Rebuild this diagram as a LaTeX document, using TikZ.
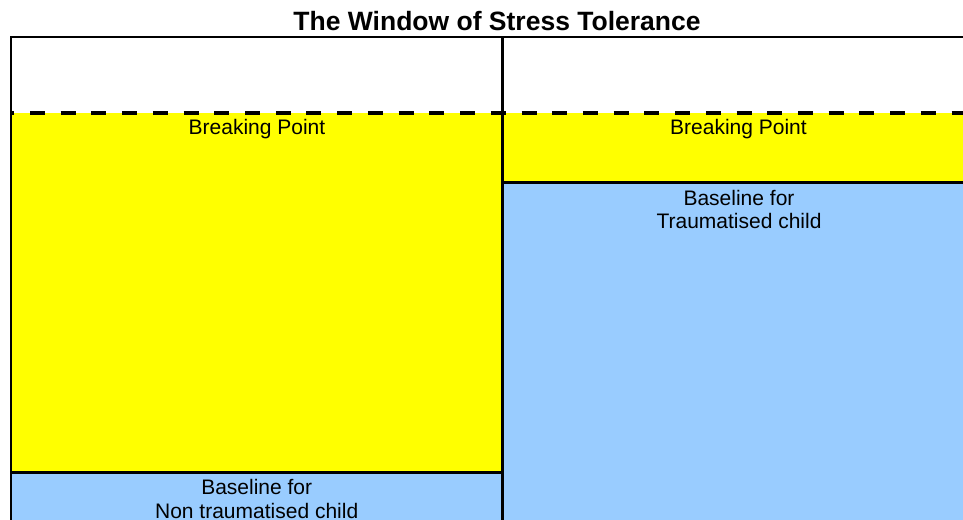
\documentclass[tikz,border=0pt]{standalone}
\usepackage{fontspec}
\setmainfont{Liberation Sans}
\definecolor{zoneyellow}{RGB}{255,255,0}
\definecolor{zoneblue}{RGB}{153,204,255}
\tikzset{
  label text/.style={font=\fontsize{21}{23.5}\selectfont, align=center, inner sep=0pt, anchor=base},
  title text/.style={font=\fontsize{26.5}{30}\selectfont\bfseries, inner sep=0pt, anchor=base},
  edge line/.style={line width=3.5pt},
  frame line/.style={line width=2pt},
  limit line/.style={line width=4pt, dash pattern=on 15pt off 15.72pt, dash phase=11.72pt}
}
\begin{document}
\begin{tikzpicture}[x=1pt, y=-1pt]
  \useasboundingbox (0,0) rectangle (963,519);
  % coloured zones
  \fill[zoneyellow] (11,113) rectangle (502.5,472.5);
  \fill[zoneblue]   (11,472.5) rectangle (502.5,530);
  \fill[zoneyellow] (502.5,113) rectangle (975,182.5);
  \fill[zoneblue]   (502.5,182.5) rectangle (975,530);
  % zone boundaries
  \coordinate (lb1) at (11,472.7);
  \coordinate (lb2) at (502,472.7);
  \coordinate (rb1) at (504,182.6);
  \coordinate (rb2) at (975,182.6);
  \draw[edge line] (lb1) -- (lb2);
  \draw[edge line] (rb1) -- (rb2);
  % outer frame and divider
  \coordinate (fbl) at (11,530);
  \coordinate (ftl) at (11,37);
  \coordinate (ftr) at (975,37);
  \coordinate (dtop) at (502.5,37);
  \coordinate (dbot) at (502.5,530);
  \draw[frame line] (fbl) -- (ftl) -- (ftr);
  \draw[line width=3pt] (dtop) -- (dbot);
  % breaking-point limit
  \coordinate (ll) at (11,113);
  \coordinate (lr) at (975,113);
  \draw[limit line] (ll) -- (lr);
  % texts (multi-line labels are placed by the baseline of their last line)
  \node[title text] (title) at (497,30.5) {The Window of Stress Tolerance};
  \node[label text] (bpl) at (257,134) {Breaking Point};
  \node[label text] (bpr) at (738.5,134) {Breaking Point};
  \node[label text] (blr) at (739,228.5) {Baseline for\\Traumatised child};
  \node[label text] (bll) at (256.7,518) {Baseline for\\Non traumatised child};
\end{tikzpicture}
\end{document}
